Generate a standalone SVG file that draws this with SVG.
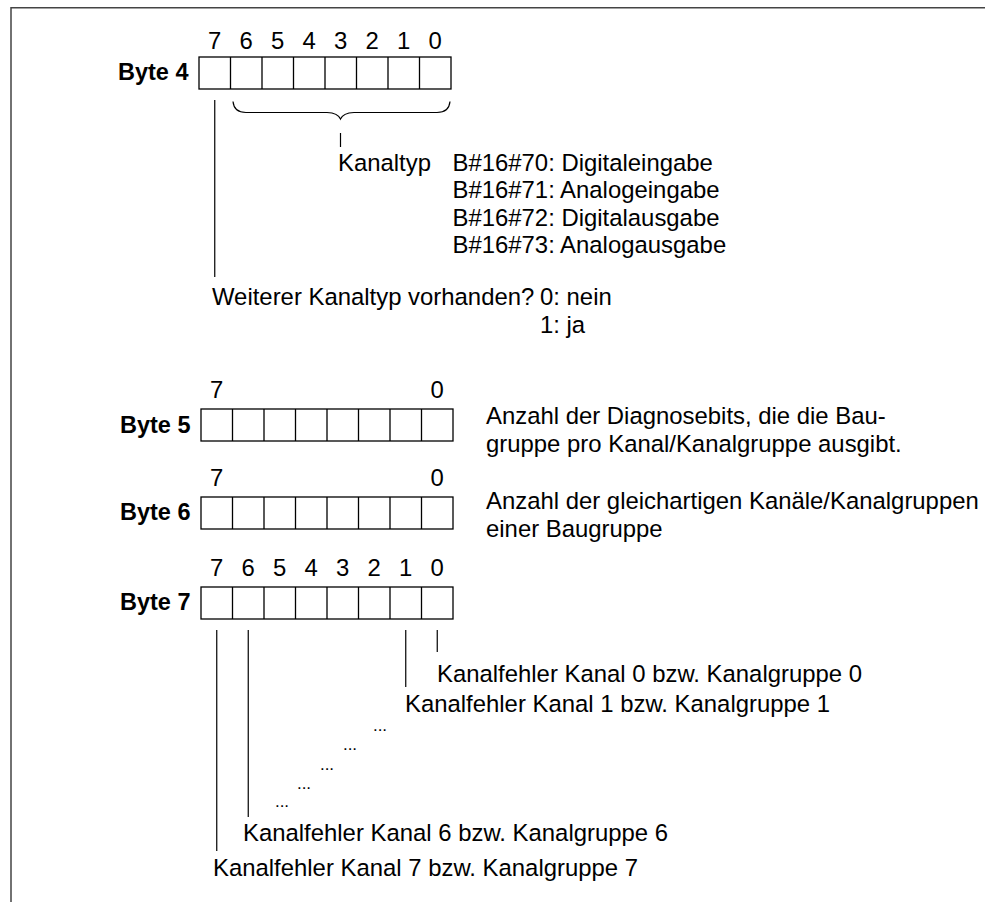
<svg xmlns="http://www.w3.org/2000/svg" xmlns:xlink="http://www.w3.org/1999/xlink" width="985" height="902" viewBox="0 0 985 902">
<style>
text{font-family:"Liberation Sans",Arial,Helvetica,sans-serif;font-size:23.9px;fill:#000}
.lbl{font-weight:bold;font-size:23.5px}
.dig{text-anchor:middle}
.dots{font-size:17px;text-anchor:middle}
.cell{fill:#fff;stroke:#000;stroke-width:1.3}
.conn{stroke:#000;stroke-width:1.2;fill:none}
.border{stroke:#444;stroke-width:1.5;fill:none}
</style>
<defs>
<g id="cells">
<rect class="cell" x="0" y="0" width="252" height="32"/>
<path class="cell" d="M31.5,0v32M63,0v32M94.5,0v32M126,0v32M157.5,0v32M189,0v32M220.5,0v32"/>
</g>
</defs>
<rect width="985" height="902" fill="#fff"/>
<path class="border" d="M11,902V7.8H985"/>

<g id="byte4">
<text class="lbl" x="118" y="80">Byte 4</text>
<use xlink:href="#cells" x="199" y="57"/>
<text class="dig" x="214.75" y="49">7</text>
<text class="dig" x="246.25" y="49">6</text>
<text class="dig" x="277.75" y="49">5</text>
<text class="dig" x="309.25" y="49">4</text>
<text class="dig" x="340.75" y="49">3</text>
<text class="dig" x="372.25" y="49">2</text>
<text class="dig" x="403.75" y="49">1</text>
<text class="dig" x="435.25" y="49">0</text>
</g>

<g id="kanaltyp">
<text x="338" y="170.5">Kanaltyp</text>
<text x="452.5" y="170.5">B#16#70: Digitaleingabe</text>
<text x="452.5" y="198">B#16#71: Analogeingabe</text>
<text x="452.5" y="225.5">B#16#72: Digitalausgabe</text>
<text x="452.5" y="253">B#16#73: Analogausgabe</text>
</g>

<g id="weiterer">
<text x="212" y="305">Weiterer Kanaltyp vorhanden?</text>
<text x="540" y="305">0: nein</text>
<text x="540" y="333">1: ja</text>
</g>

<g id="byte5">
<text class="lbl" x="120" y="433">Byte 5</text>
<use xlink:href="#cells" x="201" y="409"/>
<text class="dig" x="216.75" y="398">7</text>
<text class="dig" x="437.25" y="398">0</text>
<text x="486" y="424">Anzahl der Diagnosebits, die die Bau-</text>
<text x="486" y="452">gruppe pro Kanal/Kanalgruppe ausgibt.</text>
</g>

<g id="byte6">
<text class="lbl" x="120" y="520">Byte 6</text>
<use xlink:href="#cells" x="201" y="497"/>
<text class="dig" x="216.75" y="486">7</text>
<text class="dig" x="437.25" y="486">0</text>
<text x="486" y="508.5">Anzahl der gleichartigen Kanäle/Kanalgruppen</text>
<text x="486" y="536.5">einer Baugruppe</text>
</g>

<g id="byte7">
<text class="lbl" x="120" y="610">Byte 7</text>
<use xlink:href="#cells" x="201" y="587"/>
<text class="dig" x="216.75" y="576">7</text>
<text class="dig" x="248.25" y="576">6</text>
<text class="dig" x="279.75" y="576">5</text>
<text class="dig" x="311.25" y="576">4</text>
<text class="dig" x="342.75" y="576">3</text>
<text class="dig" x="374.25" y="576">2</text>
<text class="dig" x="405.75" y="576">1</text>
<text class="dig" x="437.25" y="576">0</text>
</g>

<g id="kanalfehler">
<text x="437" y="682">Kanalfehler Kanal 0 bzw. Kanalgruppe 0</text>
<text x="405" y="712">Kanalfehler Kanal 1 bzw. Kanalgruppe 1</text>
<text class="dots" x="380" y="731">...</text>
<text class="dots" x="350" y="750">...</text>
<text class="dots" x="327" y="770">...</text>
<text class="dots" x="304" y="789">...</text>
<text class="dots" x="282" y="807">...</text>
<text x="243" y="841">Kanalfehler Kanal 6 bzw. Kanalgruppe 6</text>
<text x="213" y="876">Kanalfehler Kanal 7 bzw. Kanalgruppe 7</text>
</g>

<g id="connectors">
<path class="conn" d="M233,101.5Q234,112.5 246,112.5L327,112.5Q338,113 340.5,119Q343,113 354,112.5L437,112.5Q449,112.5 450,101.5"/>
<line class="conn" x1="340.5" y1="133" x2="340.5" y2="147"/>
<line class="conn" x1="214.75" y1="100" x2="214.75" y2="277"/>
<line class="conn" x1="216.75" y1="630" x2="216.75" y2="851"/>
<line class="conn" x1="248.25" y1="630" x2="248.25" y2="817"/>
<line class="conn" x1="405.75" y1="630" x2="405.75" y2="687"/>
<line class="conn" x1="437.25" y1="630" x2="437.25" y2="652"/>
</g>
</svg>
